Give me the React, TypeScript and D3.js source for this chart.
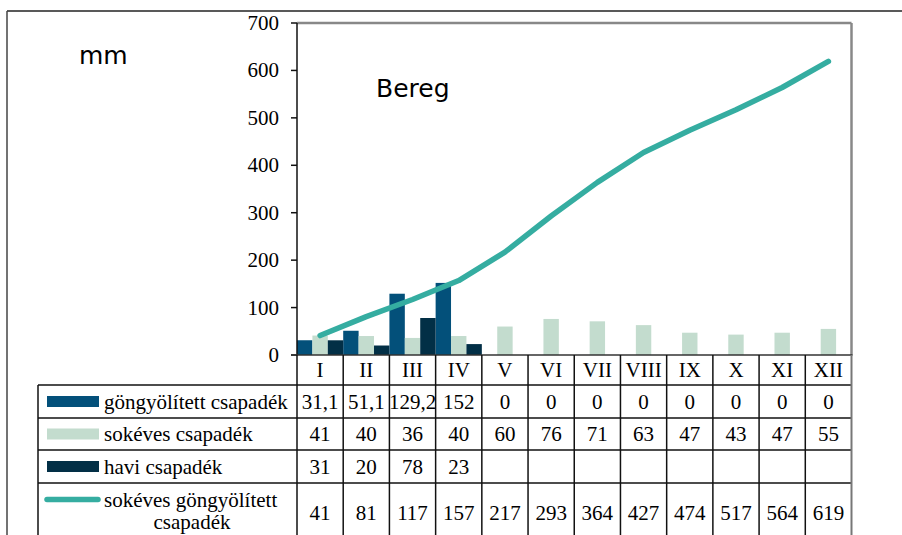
import React from "react";
import * as d3 from "d3";

const months = ["I", "II", "III", "IV", "V", "VI", "VII", "VIII", "IX", "X", "XI", "XII"];
const gongyolitett = [31.1, 51.1, 129.2, 152, 0, 0, 0, 0, 0, 0, 0, 0];
const gongyolitettLabels = ["31,1", "51,1", "129,2", "152", "0", "0", "0", "0", "0", "0", "0", "0"];
const sokeves = [41, 40, 36, 40, 60, 76, 71, 63, 47, 43, 47, 55];
const havi: (number | null)[] = [31, 20, 78, 23, null, null, null, null, null, null, null, null];
const sokevesGongy = [41, 81, 117, 157, 217, 293, 364, 427, 474, 517, 564, 619];
const yTicks = [0, 100, 200, 300, 400, 500, 600, 700];

const seriesNames = ["göngyölített csapadék", "sokéves csapadék", "havi csapadék", "sokéves göngyölített csapadék"];
const colors = {
  gong: "#03507A",
  sok: "#C3DCCE",
  havi: "#022F46",
  line: "#35ADA1",
};

const W = 902;
const H = 535;
const plotL = 297;
const plotR = 851.5;
const plotT = 23;
const plotB = 355;
const tableL = 38;
const rowTops = [385, 418, 450, 483, 542];
const serif = "Liberation Serif";
const sans = "DejaVu Sans";
const FS = 21;

export default function App() {
  const x = d3.scaleBand<string>().domain(months).range([plotL, plotR]).padding(0);
  const inner = d3.scaleBand<string>().domain(["gong", "sok", "havi"]).range([0, x.bandwidth()]).padding(0);
  const y = d3.scaleLinear().domain([0, 700]).range([plotB, plotT]);
  const line = d3
    .line<number>()
    .x((_, i) => (x(months[i]) as number) + x.bandwidth() / 2)
    .y((d) => y(d));

  const colEdges = months.map((m) => x(m) as number).concat([plotR]);
  const rowCenter = (i: number) => (rowTops[i] + rowTops[i + 1]) / 2;

  const barSeries: { key: string; vals: (number | null)[]; color: string }[] = [
    { key: "gong", vals: gongyolitett, color: colors.gong },
    { key: "sok", vals: sokeves, color: colors.sok },
    { key: "havi", vals: havi, color: colors.havi },
  ];

  const tableRows: string[][] = [
    gongyolitettLabels,
    sokeves.map(String),
    havi.map((v) => (v == null ? "" : String(v))),
    sokevesGongy.map(String),
  ];

  const serifStyle = { fontFamily: serif, fontSize: FS };

  return (
    <svg width={W} height={H} style={{ position: "absolute", left: 0, top: 0 }}>
      <rect x={0} y={0} width={W} height={H} fill="#fff" />
      {/* outer frame */}
      <line x1={7} y1={11} x2={W} y2={11} stroke="#222" strokeWidth={1.5} />
      <line x1={7} y1={11} x2={7} y2={H} stroke="#444" strokeWidth={1.5} />

      {/* plot border */}
      <line x1={plotL} y1={plotT} x2={plotR} y2={plotT} stroke="#888" strokeWidth={2.5} />
      <line x1={plotR} y1={plotT} x2={plotR} y2={plotB} stroke="#888" strokeWidth={2.5} />

      {/* bars */}
      {barSeries.map((s) =>
        s.vals.map((v, i) =>
          v == null || v === 0 ? null : (
            <rect
              key={s.key + i}
              x={(x(months[i]) as number) + (inner(s.key) as number)}
              y={y(v)}
              width={inner.bandwidth()}
              height={plotB - y(v)}
              fill={s.color}
            />
          )
        )
      )}

      {/* line */}
      <path d={line(sokevesGongy) || ""} fill="none" stroke={colors.line} strokeWidth={5.5} strokeLinecap="round" strokeLinejoin="round" />

      {/* y axis */}
      <line x1={plotL} y1={plotT} x2={plotL} y2={plotB} stroke="#111" strokeWidth={1.5} />
      {yTicks.map((t) => (
        <g key={t}>
          <line x1={plotL - 6} y1={y(t)} x2={plotL} y2={y(t)} stroke="#111" strokeWidth={1.5} />
          <text x={279} y={y(t) + 7} textAnchor="end" style={serifStyle} fill="#000">
            {t}
          </text>
        </g>
      ))}
      <line x1={plotL - 6} y1={plotB} x2={plotR + 1} y2={plotB} stroke="#333" strokeWidth={1.5} />

      {/* category labels */}
      {months.map((m) => (
        <text key={m} x={(x(m) as number) + x.bandwidth() / 2} y={377} textAnchor="middle" style={serifStyle} fill="#000">
          {m}
        </text>
      ))}

      {/* table grid */}
      {rowTops.slice(0, 4).map((ry, i) => (
        <line key={"h" + i} x1={tableL} y1={ry} x2={plotR} y2={ry} stroke="#111" strokeWidth={1.5} />
      ))}
      <line x1={tableL} y1={rowTops[0]} x2={tableL} y2={H} stroke="#111" strokeWidth={1.5} />
      {colEdges.map((cx, i) => (
        <line
          key={"v" + i}
          x1={cx}
          y1={plotB}
          x2={cx}
          y2={H}
          stroke={i === colEdges.length - 1 ? "#777" : "#111"}
          strokeWidth={i === colEdges.length - 1 ? 2 : 1.5}
        />
      ))}

      {/* table values */}
      {tableRows.map((row, r) =>
        row.map((v, i) => (
          <text
            key={r + "-" + i}
            x={(x(months[i]) as number) + x.bandwidth() / 2}
            y={rowCenter(r) + 7}
            textAnchor="middle"
            style={serifStyle}
            fill="#000"
          >
            {v}
          </text>
        ))
      )}

      {/* legend keys in table */}
      {barSeries.map((s, r) => (
        <g key={"lg" + r}>
          <rect x={47} y={rowCenter(r) - 5.5} width={52} height={11} fill={s.color} />
          <text x={104} y={rowCenter(r) + 7} style={serifStyle} fill="#000">
            {seriesNames[r]}
          </text>
        </g>
      ))}
      <line x1={47} y1={499.5} x2={98} y2={499.5} stroke={colors.line} strokeWidth={5.5} strokeLinecap="round" />
      <text x={104} y={507} style={serifStyle} fill="#000">
        sokéves göngyölített
      </text>
      <text x={192} y={529} textAnchor="middle" style={serifStyle} fill="#000">
        csapadék
      </text>

      {/* titles */}
      <text x={79} y={64} style={{ fontFamily: sans, fontSize: 25 }} fill="#000">
        mm
      </text>
      <text x={376} y={97} style={{ fontFamily: sans, fontSize: 25 }} fill="#000">
        Bereg
      </text>
    </svg>
  );
}
